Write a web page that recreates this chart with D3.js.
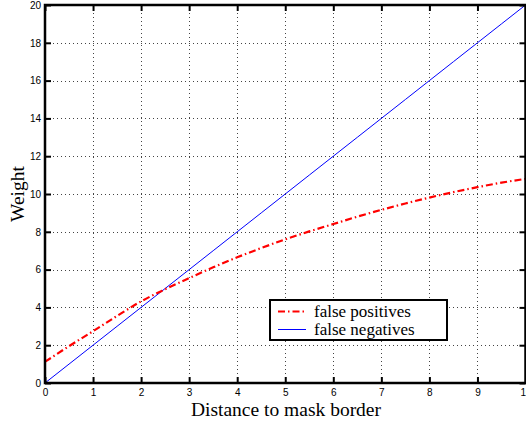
<!DOCTYPE html>
<html>
<head>
<meta charset="utf-8">
<script src="https://cdn.jsdelivr.net/npm/d3@7"></script>
<style>
  html, body { margin: 0; padding: 0; background: #fff; }
  svg { display: block; }
</style>
</head>
<body>
<svg id="chart" width="526" height="423"></svg>
<script>
// Weight as a function of distance to the mask border
const distance = [0, 0.5, 1, 1.5, 2, 2.5, 3, 3.5, 4, 4.5, 5, 5.5, 6, 6.5, 7, 7.5, 8, 8.5, 9, 9.5, 10];
const falsePositives = [1.12, 1.95, 2.74, 3.55, 4.32, 4.96, 5.55, 6.12, 6.65, 7.14, 7.6, 8.02, 8.41, 8.8, 9.16, 9.5, 9.81, 10.1, 10.36, 10.6, 10.8];
const falseNegatives = [0, 1, 2, 3, 4, 5, 6, 7, 8, 9, 10, 11, 12, 13, 14, 15, 16, 17, 18, 19, 20];
const xTicks = [0, 1, 2, 3, 4, 5, 6, 7, 8, 9, 10];
const yTicks = [0, 2, 4, 6, 8, 10, 12, 14, 16, 18, 20];
const seriesNames = ["false positives", "false negatives"];

const svg = d3.select("#chart");
const plotL = 45, plotR = 525.5, plotT = 5, plotB = 383;

const x = d3.scaleLinear().domain([0, 10]).range([plotL, plotR]);
const y = d3.scaleLinear().domain([0, 20]).range([plotB, plotT]);

// dotted grid
const grid = svg.append("g")
  .attr("stroke", "#444")
  .attr("stroke-width", 1)
  .attr("stroke-dasharray", "1,3");
grid.selectAll(".gx").data(xTicks.slice(1, -1)).join("line")
  .attr("x1", d => Math.round(x(d)) + 0.5).attr("x2", d => Math.round(x(d)) + 0.5)
  .attr("y1", plotT).attr("y2", plotB);
grid.selectAll(".gy").data(yTicks.slice(1, -1)).join("line")
  .attr("y1", d => Math.round(y(d)) + 0.5).attr("y2", d => Math.round(y(d)) + 0.5)
  .attr("x1", plotL).attr("x2", plotR);

// data lines
const line = d3.line().x((d, i) => x(distance[i])).y(d => y(d)).curve(d3.curveMonotoneX);
svg.append("path")
  .datum(falseNegatives)
  .attr("d", line)
  .attr("fill", "none")
  .attr("stroke", "#0000ff")
  .attr("stroke-width", 1);
svg.append("path")
  .datum(falsePositives)
  .attr("d", line)
  .attr("fill", "none")
  .attr("stroke", "#ff0000")
  .attr("stroke-width", 2.2)
  .attr("stroke-dasharray", "7,3,1.5,3");

// axes with inward ticks
const tickFont = "10px 'Liberation Sans', Arial, sans-serif";
const axB = svg.append("g").attr("transform", `translate(0,${plotB})`)
  .call(d3.axisBottom(x).tickValues(xTicks).tickSize(-6).tickPadding(6).tickFormat(d3.format("d")));
const axL = svg.append("g").attr("transform", `translate(${plotL},0)`)
  .call(d3.axisLeft(y).tickValues(yTicks).tickSize(-6).tickPadding(4).tickFormat(d3.format("d")));
const axT = svg.append("g").attr("transform", `translate(0,${plotT})`)
  .call(d3.axisTop(x).tickValues(xTicks).tickSize(-6).tickFormat(""));
const axR = svg.append("g").attr("transform", `translate(${plotR},0)`)
  .call(d3.axisRight(y).tickValues(yTicks).tickSize(-6).tickFormat(""));
[axB, axL, axT, axR].forEach(a => {
  a.select(".domain").remove();
  a.selectAll(".tick line").attr("stroke", "#000").attr("stroke-width", 2);
  a.selectAll(".tick text").style("font", tickFont).attr("fill", "#000");
});

// frame
svg.append("rect")
  .attr("x", plotL).attr("y", plotT)
  .attr("width", plotR - plotL).attr("height", plotB - plotT)
  .attr("fill", "none").attr("stroke", "#000").attr("stroke-width", 2.5);

// axis titles
const titleFont = "19.5px 'Liberation Serif', 'Times New Roman', serif";
svg.append("text")
  .attr("x", 286).attr("y", 416)
  .attr("text-anchor", "middle")
  .style("font", titleFont)
  .text("Distance to mask border");
svg.append("text")
  .attr("transform", `translate(23.5,${(plotT + plotB) / 2}) rotate(-90)`)
  .attr("text-anchor", "middle")
  .style("font", titleFont)
  .text("Weight");

// legend
const legendFont = "17px 'Liberation Serif', 'Times New Roman', serif";
const lg = svg.append("g");
lg.append("rect")
  .attr("x", 270).attr("y", 300).attr("width", 177).attr("height", 40)
  .attr("fill", "#fff").attr("stroke", "#000").attr("stroke-width", 2);
const styles = [
  { color: "#ff0000", width: 2.2, dash: "7,3,1.5,3" },
  { color: "#0000ff", width: 1, dash: null }
];
seriesNames.forEach((name, i) => {
  const ry = 311.5 + i * 18;
  lg.append("line")
    .attr("x1", 278).attr("x2", 306).attr("y1", ry).attr("y2", ry)
    .attr("stroke", styles[i].color).attr("stroke-width", styles[i].width)
    .attr("stroke-dasharray", styles[i].dash);
  lg.append("text")
    .attr("x", 314).attr("y", ry + 5.5)
    .style("font", legendFont)
    .text(name);
});
</script>
</body>
</html>
